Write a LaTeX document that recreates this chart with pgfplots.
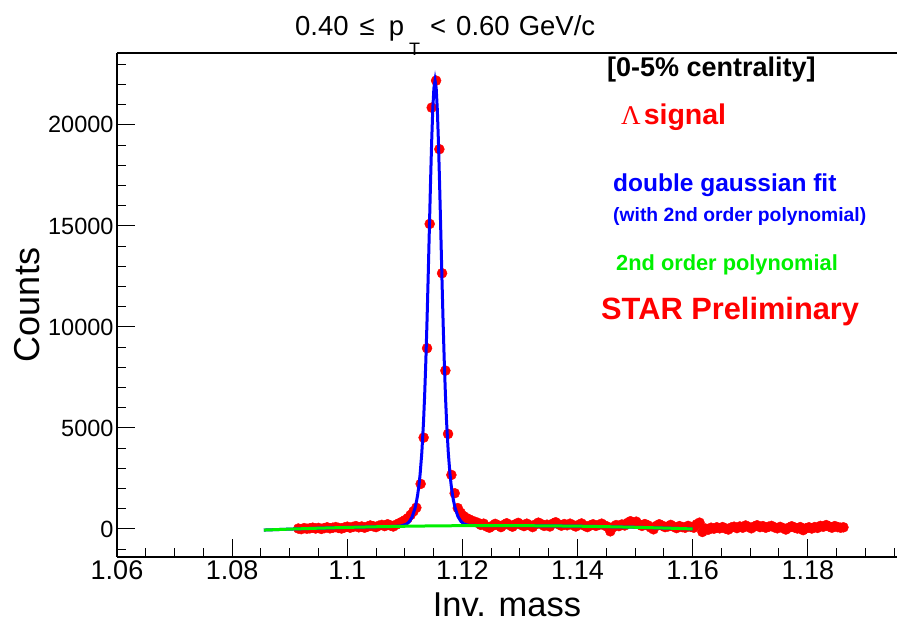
\documentclass[border=0pt]{standalone}
\usepackage{fontspec}
\setmainfont{Liberation Sans}
\newfontfamily\timesf{Liberation Serif}
\usepackage{pgfplots}
\pgfplotsset{compat=1.18}
\definecolor{rootgreen}{RGB}{0,240,0}
\definecolor{rootred}{RGB}{255,0,0}
\definecolor{rootblue}{RGB}{0,0,255}

\pgfplotstableread{
x y
1.0915 20
1.0920 -10
1.0925 40
1.0930 10
1.0935 30
1.0940 60
1.0945 20
1.0950 50
1.0955 0
1.0960 40
1.0965 80
1.0970 30
1.0975 60
1.0980 90
1.0985 50
1.0990 20
1.0995 70
1.1000 110
1.1005 60
1.1010 100
1.1015 140
1.1020 80
1.1025 120
1.1030 60
1.1035 110
1.1040 170
1.1045 130
1.1050 90
1.1055 160
1.1060 200
1.1065 140
1.1070 230
1.1075 170
1.1080 120
1.1085 210
1.1090 280
1.1095 350
1.1100 430
1.1105 530
1.1110 690
1.1115 870
1.1120 1050
1.11275 2228
1.11327 4520
1.11386 8946
1.11432 15099
1.11467 20856
1.11543 22193
1.11600 18797
1.11647 12658
1.11704 7837
1.11751 4703
1.11809 2673
1.11866 1767
1.1192 1030
1.1197 800
1.1202 640
1.1207 540
1.1212 470
1.1217 400
1.1222 350
1.1227 300
1.1232 200
1.1237 260
1.1242 120
1.1247 60
1.1252 150
1.1257 250
1.1262 180
1.1267 90
1.1272 200
1.1277 280
1.1282 190
1.1287 110
1.1292 230
1.1297 300
1.1302 200
1.1307 140
1.1312 260
1.1317 180
1.1322 90
1.1327 220
1.1332 310
1.1337 240
1.1342 150
1.1347 210
1.1352 120
1.1357 260
1.1362 330
1.1367 230
1.1372 160
1.1377 240
1.1382 180
1.1387 260
1.1392 190
1.1397 120
1.1402 200
1.1407 270
1.1412 160
1.1417 90
1.1422 170
1.1427 230
1.1432 150
1.1437 200
1.1442 260
1.1447 170
1.1452 110
1.1457 -120
1.1462 90
1.1467 190
1.1472 140
1.1477 220
1.1482 170
1.1487 300
1.1492 380
1.1497 280
1.1502 360
1.1507 220
1.1512 150
1.1517 240
1.1522 180
1.1527 70
1.1532 -20
1.1537 150
1.1542 230
1.1547 160
1.1552 90
1.1557 120
1.1562 200
1.1567 110
1.1572 40
1.1577 140
1.1582 90
1.1587 60
1.1592 150
1.1597 100
1.1602 60
1.1607 230
1.1612 310
1.1617 -150
1.1622 20
1.1627 -40
1.1632 60
1.1637 10
1.1642 80
1.1647 30
1.1652 90
1.1657 20
1.1662 -30
1.1667 70
1.1672 110
1.1677 40
1.1682 120
1.1687 60
1.1692 170
1.1697 100
1.1702 30
1.1707 120
1.1712 180
1.1717 90
1.1722 140
1.1727 60
1.1732 110
1.1737 150
1.1742 80
1.1747 30
1.1752 100
1.1757 40
1.1762 -30
1.1767 60
1.1772 130
1.1777 70
1.1782 20
1.1787 90
1.1792 -60
1.1797 30
1.1802 80
1.1807 20
1.1812 90
1.1817 50
1.1822 150
1.1827 110
1.1832 190
1.1837 120
1.1842 60
1.1847 140
1.1852 90
1.1857 60
1.1862 80
}\signal

\pgfplotstableread{
x y
1.0855 -57
1.0900 -10
1.0950 36
1.1000 75
1.1050 107
1.10775 121
1.10925 142
1.11025 226
1.11075 347
1.11125 580
1.11175 1003
1.11205 1391
1.11225 1728
1.11245 2152
1.11265 2686
1.11295 3766
1.11325 5308
1.11345 6661
1.11365 8306
1.11385 10232
1.11405 12397
1.11425 14697
1.11445 16980
1.11465 19060
1.11485 20735
1.11505 21821
1.11525 22200
1.11545 21822
1.11565 20737
1.11585 19063
1.11605 16984
1.11625 14702
1.11645 12403
1.11665 10239
1.11685 8314
1.11705 6670
1.11725 5319
1.11755 3779
1.11785 2701
1.11805 2168
1.11825 1745
1.11845 1409
1.11875 1023
1.11925 603
1.11975 373
1.12025 255
1.12075 201
1.12125 178
1.12275 165
1.1250 165
1.1300 162
1.1350 152
1.1400 136
1.1450 112
1.1500 82
1.1550 44
1.1600 0
}\fit

\pgfplotstableread{
x y
1.0855 -57
1.0900 -10
1.0950 36
1.1000 75
1.1050 107
1.1100 132
1.1150 150
1.1200 161
1.1250 165
1.1300 162
1.1350 152
1.1400 136
1.1450 112
1.1500 82
1.1550 44
1.1600 0
}\poly

\begin{document}
\begin{tikzpicture}
\useasboundingbox (0pt,0pt) rectangle (898pt,624pt);
\begin{axis}[
  at={(117pt,67pt)}, anchor=south west,
  width=780pt, height=504pt, scale only axis,
  xmin=1.06, xmax=1.1955, ymin=-1390, ymax=23560,
  clip marker paths=true,
  axis lines=left,
  axis line style={-, line width=1.2pt, black},
  xtick={1.06,1.08,1.1,1.12,1.14,1.16,1.18},
  xticklabels={1.06,1.08,1.1,1.12,1.14,1.16,1.18},
  minor xtick={1.065,1.07,1.075,1.085,1.09,1.095,1.105,1.11,1.115,1.125,1.13,1.135,1.145,1.15,1.155,1.165,1.17,1.175,1.185,1.19,1.195},
  ytick={0,5000,10000,15000,20000},
  yticklabels={0,5000,10000,15000,20000},
  scaled y ticks=false, scaled x ticks=false,
  minor ytick={-1000,1000,2000,3000,4000,6000,7000,8000,9000,11000,12000,13000,14000,16000,17000,18000,19000,21000,22000,23000},
  tick align=inside,
  major tick length=18pt, minor tick length=9pt,
  tick style={black, line width=1pt},
  yticklabel style={font=\fontsize{23.5}{24}\selectfont},
  xticklabel style={font=\fontsize{27}{28}\selectfont},
  xlabel={Inv. mass}, ylabel={Counts},
  every axis x label/.style={at={(axis description cs:0.5,-0.095)}, anchor=center, font=\fontsize{34.5}{36}\selectfont},
  every axis y label/.style={at={(axis description cs:-0.115,0.5)}, rotate=90, anchor=center, font=\fontsize{36}{38}\selectfont},
  extra description/.code={\draw[line width=1.2pt, black] (axis description cs:0,1) -- (axis description cs:1,1);},
]
\addplot[only marks, mark=*, mark size=5pt, color=rootred, mark options={draw=rootred, fill=rootred}] table[x=x,y=y] {\signal};
\addplot[rootblue, line width=3pt, no marks] table[x=x,y=y] {\fit};
\addplot[rootgreen, line width=3pt, no marks] table[x=x,y=y] {\poly};
\end{axis}
% title
\node[anchor=base west, inner sep=0pt, font=\fontsize{27.5}{28}\selectfont] at (295pt,588pt) {0.40\hspace{11pt}≤\hspace{14pt}p};
\node[anchor=base west, inner sep=0pt, font=\fontsize{18}{18}\selectfont] at (409pt,568pt) {T};
\node[anchor=base west, inner sep=0pt, font=\fontsize{27.5}{28}\selectfont] at (430pt,588pt) {<\hspace{10pt}0.60\hspace{9pt}GeV/c};
% legend-like texts
\node[anchor=base west, inner sep=0pt, font=\bfseries\fontsize{27}{28}\selectfont] at (607pt,547pt) {[0-5\% centrality]};
\node[anchor=base west, inner sep=0pt, text=rootred] at (621pt,499pt) {{\timesf\fontsize{27}{28}\selectfont Λ}\hspace{3pt}{\bfseries\fontsize{28.5}{29}\selectfont signal}};
\node[anchor=base west, inner sep=0pt, text=rootblue, font=\bfseries\fontsize{24.5}{25}\selectfont] at (613pt,432pt) {double gaussian fit};
\node[anchor=base west, inner sep=0pt, text=rootblue, font=\bfseries\fontsize{19.3}{20}\selectfont] at (613pt,402pt) {(with 2nd order polynomial)};
\node[anchor=base west, inner sep=0pt, text=rootgreen, font=\bfseries\fontsize{21.8}{22}\selectfont] at (616pt,353pt) {2nd order polynomial};
\node[anchor=base west, inner sep=0pt, text=rootred, font=\bfseries\fontsize{30.8}{31}\selectfont] at (601pt,304pt) {STAR Preliminary};
\end{tikzpicture}
\end{document}
